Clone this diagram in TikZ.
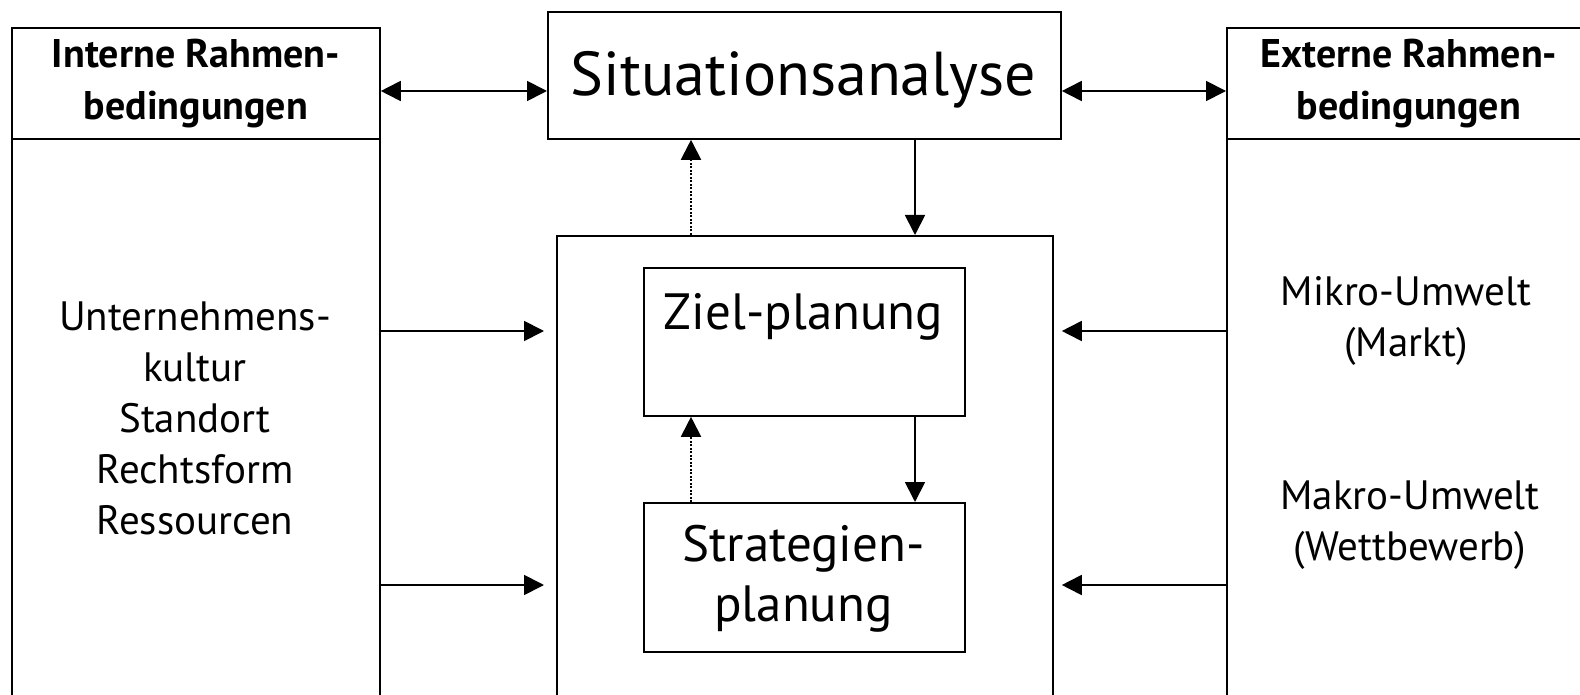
\documentclass[tikz,border=0pt]{standalone}
\usepackage{fontspec}
\setmainfont{PT Sans}
\usetikzlibrary{arrows.meta}
\begin{document}
\begin{tikzpicture}[x=1pt,y=-1pt,
  box/.style={draw, line width=1.8pt, inner sep=0pt},
  arr/.style={-{Triangle[length=20pt,width=20pt]}, line width=1.8pt},
  darr/.style={{Triangle[length=20pt,width=20pt]}-{Triangle[length=20pt,width=20pt]}, line width=1.8pt},
  dotarr/.style={-{Triangle[length=20pt,width=20pt]}, line width=2pt, dash pattern=on 2pt off 1.5pt},
  hdr/.style={font=\fontsize{40}{52}\selectfont\bfseries, align=center},
  body/.style={font=\fontsize{41}{51}\selectfont, align=center, inner sep=0pt},
  big/.style={font=\fontsize{62}{66}\selectfont, align=center, inner sep=0pt},
  mid/.style={font=\fontsize{51}{60}\selectfont, align=center, inner sep=0pt},
]
\useasboundingbox (0,0) rectangle (1580,695);
\clip (0,0) rectangle (1580,695);
% left column
\node[box, hdr, minimum width=368, minimum height=111, anchor=north west] (ihdr) at (11,27) {Interne Rahmen-\\bedingungen};
\node[box, minimum width=368, minimum height=622, anchor=north west] (ibody) at (11,138) {};
\node[body] (itext) at (195,418) {Unternehmens-\\kultur\\Standort\\Rechtsform\\Ressourcen};
% right column
\node[box, hdr, minimum width=364, minimum height=111, anchor=north west] (ehdr) at (1226,27) {Externe Rahmen-\\bedingungen};
\node[box, minimum width=364, minimum height=622, anchor=north west] (ebody) at (1226,138) {};
\node[body] (mikro) at (1406,321) {Mikro-Umwelt\\(Markt)};
\node[body] (makro) at (1410,525) {Makro-Umwelt\\(Wettbewerb)};
% centre
\node[box, minimum width=513, minimum height=127, anchor=north west] (situ) at (547,11) {};
\node[big] (situtext) at (803.5,80) {Situationsanalyse};
\node[box, minimum width=496, minimum height=525, anchor=north west] (cbox) at (556,235) {};
\node[box, minimum width=321, minimum height=148, anchor=north west] (ziel) at (643,267) {};
\node[mid] (zieltext) at (803.5,317) {Ziel-planung};
\node[box, minimum width=321, minimum height=149, anchor=north west] (strat) at (643,502) {};
\node[mid] (strattext) at (803.5,579) {Strategien-\\planung};
% connectors
\draw[darr] (ihdr.east |- 0,91) -- (situ.west |- 0,91);
\draw[darr] (situ.east |- 0,91) -- (ehdr.west |- 0,91);
\draw[arr] (situ.south -| 915,0) -- (cbox.north -| 915,0);
\draw[dotarr] (cbox.north -| 691,0) -- (situ.south -| 691,0);
\draw[arr, shorten >=12pt] (ibody.east |- 0,331) -- (cbox.west |- 0,331);
\draw[arr, shorten >=12pt] (ibody.east |- 0,585) -- (cbox.west |- 0,585);
\draw[arr, shorten >=8pt] (ebody.west |- 0,331) -- (cbox.east |- 0,331);
\draw[arr, shorten >=8pt] (ebody.west |- 0,585) -- (cbox.east |- 0,585);
\draw[arr] (ziel.south -| 915,0) -- (strat.north -| 915,0);
\draw[dotarr] (strat.north -| 691,0) -- (ziel.south -| 691,0);
\end{tikzpicture}
\end{document}
